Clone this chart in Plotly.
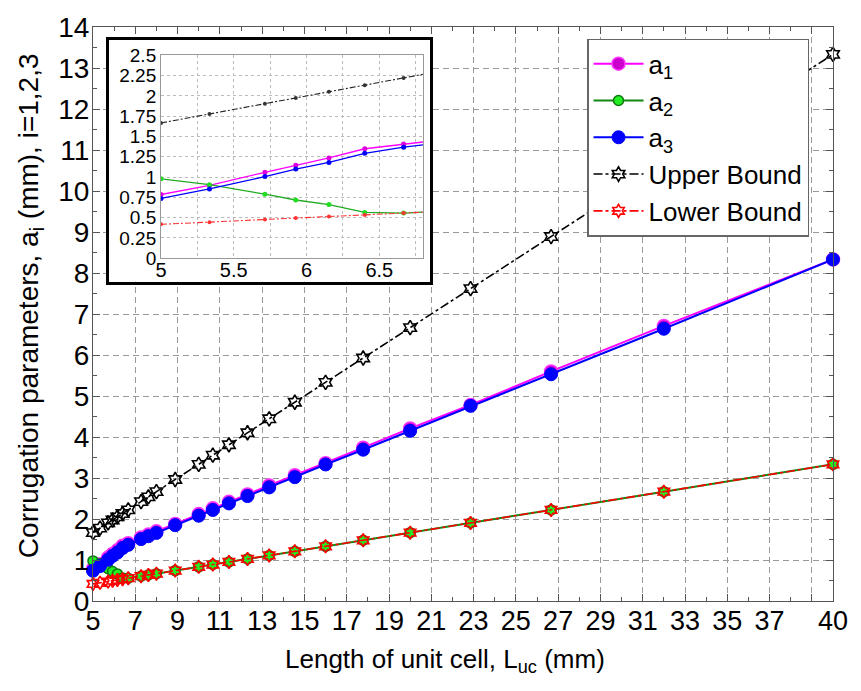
import plotly.graph_objects as go

# Unit-cell length L_uc (mm)
L_uc = [5.0, 5.333, 5.714, 5.926, 6.154, 6.4, 6.667, 7.273, 7.619, 8.0, 8.889,
        10.0, 10.667, 11.429, 12.308, 13.333, 14.545, 16.0, 17.778, 20.0,
        22.857, 26.667, 32.0, 40.0]

# Corrugation parameters (mm)
a1 = [0.785, 0.898, 1.059, 1.147, 1.236, 1.349, 1.409, 1.55, 1.62, 1.70, 1.88,
      2.12, 2.26, 2.42, 2.60, 2.82, 3.07, 3.36, 3.74, 4.21, 4.78, 5.60, 6.71, 8.33]
a2 = [0.978, 0.906, 0.789, 0.717, 0.660, 0.564, 0.556, 0.606, 0.635, 0.667, 0.741,
      0.833, 0.889, 0.952, 1.026, 1.111, 1.212, 1.333, 1.481, 1.667, 1.905, 2.222,
      2.667, 3.333]
a3 = [0.737, 0.853, 1.006, 1.099, 1.180, 1.292, 1.369, 1.51, 1.58, 1.66, 1.85,
      2.08, 2.22, 2.38, 2.56, 2.77, 3.02, 3.33, 3.69, 4.15, 4.76, 5.53, 6.64, 8.33]
upper = [1.667, 1.778, 1.905, 1.975, 2.051, 2.133, 2.222, 2.424, 2.540, 2.667, 2.963,
         3.333, 3.556, 3.810, 4.103, 4.444, 4.848, 5.333, 5.926, 6.667, 7.619, 8.889,
         10.667, 13.333]
lower = [0.417, 0.444, 0.476, 0.494, 0.513, 0.533, 0.556, 0.606, 0.635, 0.667, 0.741,
         0.833, 0.889, 0.952, 1.026, 1.111, 1.212, 1.333, 1.481, 1.667, 1.905, 2.222,
         2.667, 3.333]

series_names = ["a<sub>1</sub>", "a<sub>2</sub>", "a<sub>3</sub>", "Upper Bound", "Lower Bound"]

x_ticks = list(range(5, 40, 2)) + [40]
x_ticktext = [str(v) if v != 39 else "" for v in x_ticks]
y_ticks = list(range(0, 15))

inset_x_ticks = [5, 5.25, 5.5, 5.75, 6, 6.25, 6.5, 6.75]
inset_x_text = ["5", "", "5.5", "", "6", "", "6.5", ""]
inset_y_ticks = [0, 0.25, 0.5, 0.75, 1, 1.25, 1.5, 1.75, 2, 2.25, 2.5]
inset_y_text = ["0", "0.25", "0.5", "0.75", "1", "1.25", "1.5", "1.75", "2", "2.25", "2.5"]

FONT = "Liberation Sans, Arial, sans-serif"
AX = "#555555"

styles = [
    dict(line=dict(color="#ff00ff", width=2),
         marker=dict(symbol="circle", color="#cc00cc", size=13, line=dict(color="#ff33ff", width=1.5))),
    dict(line=dict(color="#118811", width=2),
         marker=dict(symbol="circle", color="#22ee22", size=10, line=dict(color="#117711", width=1.5))),
    dict(line=dict(color="#0000ff", width=2),
         marker=dict(symbol="circle", color="#0000ff", size=13, line=dict(color="#0000ff", width=1))),
    dict(line=dict(color="#000000", width=1.6, dash="dashdot"),
         marker=dict(symbol="hexagram-open", color="#000000", size=11, line=dict(width=1.6))),
    dict(line=dict(color="#ff0000", width=1.6, dash="dashdot"),
         marker=dict(symbol="hexagram-open", color="#ff0000", size=10, line=dict(width=1.6))),
]
inset_styles = [
    dict(line=dict(color="#ff00ff", width=1.3), marker=dict(color="#dd00dd", size=5)),
    dict(line=dict(color="#22aa22", width=1.3), marker=dict(color="#22dd22", size=5)),
    dict(line=dict(color="#0000ff", width=1.3), marker=dict(color="#0000ff", size=5)),
    dict(line=dict(color="#222222", width=1.1, dash="6px,2px,2px,2px"), marker=dict(color="#333333", size=4)),
    dict(line=dict(color="#ff3333", width=1.1, dash="6px,2px,2px,2px"), marker=dict(color="#ff3333", size=4)),
]
series = [a1, a2, a3, upper, lower]

fig = go.Figure()

for name, ys, st in zip(series_names, series, styles):
    fig.add_trace(go.Scatter(x=L_uc, y=ys, name=name, mode="lines+markers",
                             cliponaxis=False, xaxis="x", yaxis="y", **st))

# white framed panel that holds the zoomed view
fig.add_trace(go.Scatter(x=[], y=[], xaxis="x2", yaxis="y2", showlegend=False))

for name, ys, st in zip(series_names, series, inset_styles):
    fig.add_trace(go.Scatter(x=L_uc, y=ys, name=name, mode="lines+markers",
                             showlegend=False, xaxis="x3", yaxis="y3", **st))

fig.update_layout(
    width=861, height=691,
    margin=dict(l=93, r=28, t=15, b=90),
    paper_bgcolor="white", plot_bgcolor="white",
    font=dict(family=FONT, size=27, color="black"),
    showlegend=True,
    legend=dict(x=0.6676, y=0.9795, xanchor="left", yanchor="top",
                bgcolor="white", bordercolor="#666666", borderwidth=1.5,
                font=dict(size=26), itemwidth=50, tracegroupgap=0),
    xaxis=dict(domain=[0, 1], range=[5, 40], tickmode="array", tickvals=x_ticks,
               ticktext=x_ticktext, ticks="inside", ticklen=7, tickcolor=AX,
               showline=True, linecolor=AX, linewidth=1.2, mirror="allticks",
               showgrid=True, gridcolor="#9a9a9a", griddash="6px,4px", gridwidth=1,
               zeroline=False, tickfont=dict(size=27), ticklabelstandoff=-5,
               minor=dict(tickmode="array", tickvals=list(range(6, 40, 2)),
                          ticks="inside", ticklen=4, tickcolor=AX, showgrid=False)),
    yaxis=dict(domain=[0, 1], range=[0, 14], tickmode="array", tickvals=y_ticks,
               ticks="inside", ticklen=7, tickcolor=AX,
               showline=True, linecolor=AX, linewidth=1.2, mirror="allticks",
               showgrid=True, gridcolor="#9a9a9a", griddash="6px,4px", gridwidth=1,
               zeroline=False, tickfont=dict(size=28), ticklabelstandoff=-3,
               minor=dict(dtick=0.5, tick0=0, ticks="inside", ticklen=4,
                          tickcolor=AX, showgrid=False)),
    xaxis2=dict(domain=[0.0216, 0.4554], anchor="y2", range=[0, 1], showgrid=False,
                zeroline=False, showticklabels=False, ticks="", showline=True,
                linecolor="black", linewidth=3, mirror=True),
    yaxis2=dict(domain=[0.5563, 0.9778], anchor="x2", range=[0, 1], showgrid=False,
                zeroline=False, showticklabels=False, ticks="", showline=True,
                linecolor="black", linewidth=3, mirror=True),
    xaxis3=dict(domain=[0.0919, 0.4459], anchor="y3", range=[5, 6.8],
                tickmode="array", tickvals=inset_x_ticks, ticktext=inset_x_text,
                ticks="", showline=True, linecolor="#999999", linewidth=1, mirror=True,
                showgrid=True, gridcolor="#bbbbbb", griddash="dot", gridwidth=1,
                zeroline=False, tickfont=dict(size=20), ticklabelstandoff=-6),
    yaxis3=dict(domain=[0.5973, 0.9505], anchor="x3", range=[0, 2.5],
                tickmode="array", tickvals=inset_y_ticks, ticktext=inset_y_text,
                ticks="", showline=True, linecolor="#999999", linewidth=1, mirror=True,
                showgrid=True, gridcolor="#bbbbbb", griddash="dot", gridwidth=1,
                zeroline=False, tickfont=dict(size=19), ticklabelstandoff=0),
    annotations=[
        dict(text="Length of unit cell, L<sub>uc</sub> (mm)", xref="paper", yref="paper",
             x=(445 - 93) / 740, y=-(662 - 601) / 586, xanchor="center", yanchor="middle",
             showarrow=False, font=dict(size=26)),
        dict(text="Corrugation parameters, a<sub>i</sub> (mm), i=1,2,3", xref="paper",
             yref="paper", x=-(93 - 30) / 740, y=(601 - 300) / 586, textangle=-90,
             xanchor="center", yanchor="middle", showarrow=False, font=dict(size=28)),
    ],
)

fig.write_html("out.html")
